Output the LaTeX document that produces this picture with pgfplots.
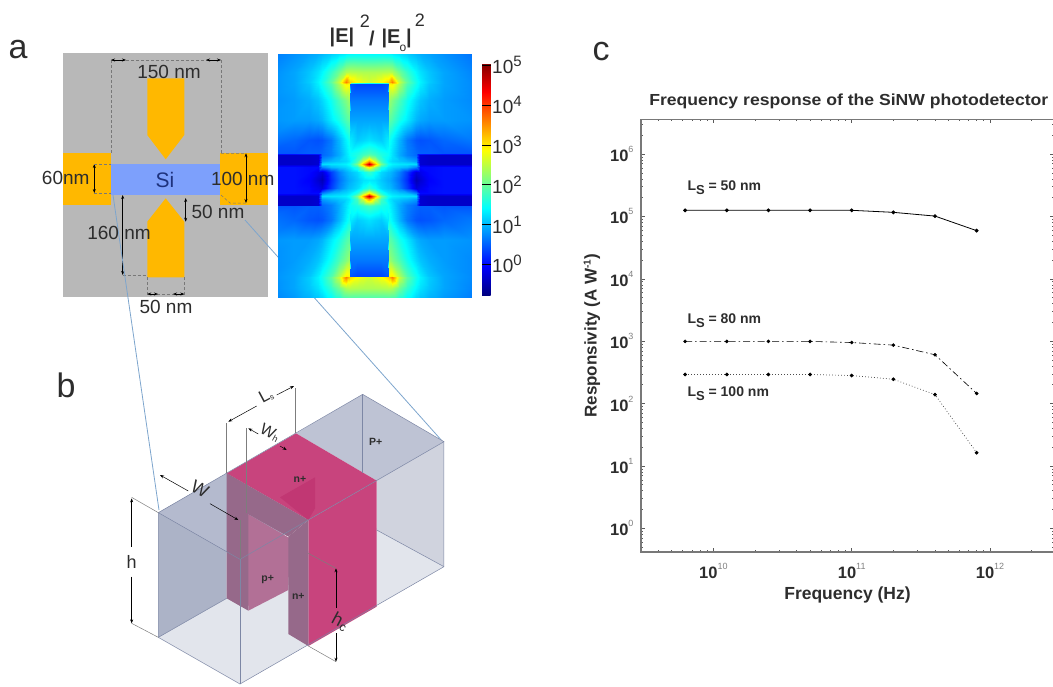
\documentclass[border=0pt]{standalone}
\usepackage{fontspec}
\setmainfont{Liberation Sans}
\usepackage{pgfplots}
\usepackage{pgfplotstable}
\pgfplotsset{compat=1.18}
\usetikzlibrary{arrows.meta}
\definecolor{gold}{RGB}{255,184,0}
\definecolor{greyb}{RGB}{184,184,184}
\definecolor{sibl}{RGB}{125,160,252}
\definecolor{sitxt}{RGB}{30,50,125}
\definecolor{link}{RGB}{125,165,205}
\definecolor{edgeb}{RGB}{125,135,165}
\definecolor{dimc}{RGB}{120,120,120}
\definecolor{dimg}{RGB}{125,125,125}
\definecolor{pinka}{RGB}{200,68,125}
\definecolor{pinkb}{RGB}{193,55,115}
\definecolor{mauvea}{RGB}{178,112,150}
\definecolor{mauveb}{RGB}{150,105,138}
\definecolor{txt}{RGB}{45,45,45}
\definecolor{floorc}{RGB}{226,229,236}
\definecolor{wallc}{RGB}{208,211,222}
\definecolor{toprc}{RGB}{190,195,212}
\definecolor{walll}{RGB}{172,179,199}
\definecolor{toplc}{RGB}{180,186,206}
\definecolor{tickc}{RGB}{90,90,90}
\definecolor{axc}{RGB}{120,120,120}
\newcommand\fs[1]{\fontsize{#1}{#1}\selectfont}
\newcommand\bz[2]{(axis cs:{90+#1/3},{360+#2/3})}
\newcommand\cbl[1]{\fs{19}10\raisebox{7pt}{\fs{15}#1}}
\newcommand\ctl[1]{\textbf{\fs{16.5}\textcolor{txt}{10}}\raisebox{9pt}{\fs{9}\textcolor{gray}{#1}}}
\pgfplotstableread[row sep=\\]{
x y v\\
0 0 1.30\\ 6 0 1.25\\ 12 0 1.10\\ 19 0 0.95\\ 20 0 0.95\\ 23 0 0.85\\ 30 0 0.60\\ 38 0 0.20\\ 47 0 -0.45\\ 51 0 -0.30\\ 60 0 -0.05\\ 75 0 0.05\\ 103 0 0.05\\
0 8 1.70\\ 6 8 1.45\\ 12 8 1.20\\ 19 8 1.05\\ 20 8 1.05\\ 23 8 0.95\\ 30 8 0.70\\ 38 8 0.30\\ 47 8 -0.25\\ 51 8 -0.15\\ 60 8 0.00\\ 75 8 0.05\\ 103 8 0.05\\
0 13 3.00\\ 6 13 2.30\\ 12 13 1.60\\ 19 13 1.30\\ 20 13 1.28\\ 23 13 1.20\\ 30 13 1.10\\ 38 13 1.00\\ 47 13 0.70\\ 51 13 0.00\\ 60 13 0.00\\ 75 13 0.05\\ 103 13 0.05\\
0 16 4.70\\ 6 16 3.30\\ 12 16 2.10\\ 19 16 1.50\\ 20 16 1.45\\ 23 16 1.35\\ 30 16 1.28\\ 38 16 1.25\\ 47 16 1.20\\ 51 16 -0.30\\ 60 16 -0.35\\ 75 16 -0.35\\ 103 16 -0.35\\
0 19 3.40\\ 6 19 2.60\\ 12 19 1.80\\ 19 19 1.35\\ 20 19 1.30\\ 23 19 1.20\\ 30 19 1.10\\ 38 19 1.00\\ 47 19 0.85\\ 51 19 -0.30\\ 60 19 -0.35\\ 75 19 -0.35\\ 103 19 -0.35\\
0 25 2.00\\ 6 25 1.80\\ 12 25 1.60\\ 19 25 1.45\\ 20 25 1.40\\ 23 25 1.25\\ 30 25 0.95\\ 38 25 0.70\\ 47 25 0.55\\ 51 25 -0.30\\ 60 25 -0.35\\ 75 25 -0.35\\ 103 25 -0.35\\
0 26.5 1.80\\ 6 26.5 1.70\\ 12 26.5 1.55\\ 19 26.5 1.45\\ 20 26.5 1.40\\ 23 26.5 1.25\\ 30 26.5 0.95\\ 38 26.5 0.70\\ 47 26.5 0.55\\ 51 26.5 0.50\\ 60 26.5 0.50\\ 75 26.5 0.45\\ 103 26.5 0.45\\
0 40 1.25\\ 6 40 1.18\\ 12 40 1.12\\ 19 40 1.30\\ 20 40 1.50\\ 23 40 1.35\\ 30 40 1.00\\ 38 40 0.65\\ 47 40 0.45\\ 51 40 0.42\\ 60 40 0.45\\ 75 40 0.55\\ 103 40 0.65\\
0 60 0.90\\ 6 60 0.90\\ 12 60 0.90\\ 19 60 0.90\\ 20 60 1.95\\ 23 60 1.85\\ 30 60 1.55\\ 38 60 1.30\\ 47 60 1.00\\ 51 60 0.92\\ 60 60 0.85\\ 75 60 0.85\\ 103 60 0.80\\
0 80 0.65\\ 6 80 0.65\\ 12 80 0.65\\ 19 80 0.65\\ 20 80 2.30\\ 23 80 2.15\\ 30 80 1.85\\ 38 80 1.50\\ 47 80 1.20\\ 51 80 1.08\\ 60 80 0.95\\ 75 80 0.85\\ 103 80 0.75\\
0 96 0.35\\ 6 96 0.35\\ 12 96 0.35\\ 19 96 0.45\\ 20 96 2.90\\ 23 96 2.95\\ 30 96 2.40\\ 38 96 1.85\\ 47 96 1.50\\ 51 96 1.32\\ 60 96 1.08\\ 75 96 0.90\\ 103 96 0.75\\
0 97.5 2.60\\ 6 97.5 2.70\\ 12 97.5 2.85\\ 19 97.5 3.10\\ 20 97.5 3.20\\ 23 97.5 3.60\\ 30 97.5 2.55\\ 38 97.5 1.95\\ 47 97.5 1.52\\ 51 97.5 1.35\\ 60 97.5 1.12\\ 75 97.5 0.90\\ 103 97.5 0.75\\
0 108 2.40\\ 6 108 2.40\\ 12 108 2.42\\ 19 108 2.45\\ 20 108 2.45\\ 23 108 2.40\\ 30 108 2.05\\ 38 108 1.70\\ 47 108 1.38\\ 51 108 1.25\\ 60 108 1.08\\ 75 108 0.90\\ 103 108 0.72\\
0 127 1.35\\ 6 127 1.35\\ 12 127 1.35\\ 19 127 1.33\\ 20 127 1.33\\ 23 127 1.30\\ 30 127 1.22\\ 38 127 1.12\\ 47 127 1.00\\ 51 127 0.95\\ 60 127 0.88\\ 75 127 0.78\\ 103 127 0.62\\
}\fieldtab
\pgfplotstableread{
f r50 r80 r100
6.25e9 1.25e5 990 292
1.25e10 1.25e5 990 292
2.5e10 1.25e5 990 292
5e10 1.25e5 990 292
1e11 1.25e5 950 281
2e11 1.16e5 863 245
4e11 1.01e5 605 139
8e11 5.9e4 145 16.3
}\resp
\begin{document}
\begin{tikzpicture}[>={Stealth[length=4pt,width=3pt]}]
\path[use as bounding box] (0,0) rectangle (1053pt,686pt);
% ---------- schematic panels, in reference pixel coordinates ----------
\begin{axis}[at={(0pt,0pt)},anchor=south west,scale only axis,width=1053pt,height=686pt,
  xmin=0,xmax=1053,ymin=0,ymax=686,y dir=reverse,hide axis,clip=false]
% panel letters
\node[font=\fs{34},text=txt] at (18,50) {a};
\node[font=\fs{34},text=txt] at (66,385) {b};
\node[font=\fs{34},text=txt] at (601,52) {c};
% panel a, left
\fill[greyb] (63.3,53.3) rectangle (268,297.3);
\fill[gold] (63.3,153.3) rectangle (111,205);
\fill[gold] (220,153.3) rectangle (268,205);
\fill[sibl] (111,164) rectangle (220,195);
\fill[gold] (147.3,78.3) -- (184.3,78.3) -- (184.3,135) -- (165.7,159.3) -- (147.3,135) -- cycle;
\fill[gold] (147.3,277.3) -- (184.3,277.3) -- (184.3,221.7) -- (165.7,198.3) -- (147.3,221.7) -- cycle;
\begin{scope}[dimc,line width=.5pt]
\draw[densely dashed] (111,60) -- (111,153) (221,60) -- (221,153) (111,60) -- (221,60);
\draw[<->,black] (111,60) -- (126,60);
\draw[<->,black] (206,60) -- (221,60);
\draw[<->,black] (94.3,164) -- (94.3,193);
\draw[densely dashed] (94.3,164) -- (111,164) (94.3,193) -- (111,193);
\draw[<->,black] (246,153.3) -- (246,203);
\draw[densely dashed] (221,153.3) -- (246,153.3) (221,195) -- (230,203) -- (246,203);
\draw[<->,black] (185.7,198) -- (185.7,221.7);
\draw[<->,black] (122.7,195) -- (122.7,275);
\draw[densely dashed] (122.7,275) -- (147,275);
\draw[densely dashed] (147.3,277.3) -- (147.3,295) (184.3,277.3) -- (184.3,295) (147.3,294) -- (184.3,294);
\draw[<->,black] (147.3,294) -- (158,294);
\draw[<->,black] (173,294) -- (184.3,294);
\end{scope}
% connectors
\draw[link,line width=.8pt] (113,195) -- (159,510);
\draw[link,line width=.8pt] (245,220) -- (443,442);
\node[font=\fs{19},text=txt] at (169,71.7) {150 nm};
\node[font=\fs{19},text=txt] at (65.7,178) {60nm};
\node[font=\fs{19},text=txt] at (242.7,179) {100 nm};
\node[font=\fs{21},text=sitxt] at (165,180) {Si};
\node[font=\fs{19},text=txt] at (218,212) {50 nm};
\node[font=\fs{19},text=txt] at (119,232.7) {160 nm};
\node[font=\fs{19},text=txt] at (166,307) {50 nm};
% heat map title
\node[font=\fs{20}\bfseries,text=txt] at (342,37) {|E|};
\node[font=\fs{18},text=txt] at (365,21) {2};
\node[font=\fs{20}\bfseries,text=txt] at (372,38) {/};
\node[font=\fs{20}\bfseries,text=txt] at (391,38) {|E};
\node[font=\fs{12},text=txt] at (403,48) {o};
\node[font=\fs{20}\bfseries,text=txt] at (409,38) {|};
\node[font=\fs{18},text=txt] at (420,20) {2};
% panel b
\fill[white] \bz{205}{458} -- \bz{818}{103} -- \bz{1062}{245} -- \bz{1062}{620} -- \bz{450}{972} -- \bz{205}{832} -- cycle;
\fill[floorc] \bz{205}{832} -- \bz{450}{972} -- \bz{1062}{620} -- \bz{818}{480} -- cycle;
\fill[wallc] \bz{860}{362} -- \bz{1062}{245} -- \bz{1062}{620} -- \bz{860}{510} -- cycle;
\fill[toprc] \bz{618}{220} -- \bz{818}{103} -- \bz{1062}{245} -- \bz{860}{362} -- cycle;
\fill[walll] \bz{205}{458} -- \bz{410}{340} -- \bz{410}{715} -- \bz{205}{832} -- cycle;
\fill[toplc] \bz{205}{458} -- \bz{410}{340} -- \bz{655}{480} -- \bz{450}{598} -- cycle;
\fill[pinka] \bz{410}{340} -- \bz{618}{220} -- \bz{860}{362} -- \bz{655}{480} -- cycle;
\fill[pinka] \bz{655}{480} -- \bz{860}{362} -- \bz{860}{740} -- \bz{655}{858} -- cycle;
\fill[pinkb] \bz{570}{412} -- \bz{675}{352} -- \bz{675}{445} -- \bz{655}{480} -- cycle;
\fill[mauvea] \bz{470}{460} -- \bz{600}{535} -- \bz{595}{690} -- \bz{475}{752} -- cycle;
\fill[mauveb] \bz{410}{340} -- \bz{475}{378} -- \bz{475}{752} -- \bz{410}{715} -- cycle;
\fill[mauveb] \bz{410}{340} -- \bz{655}{480} -- \bz{595}{530} -- \bz{470}{460} -- cycle;
\fill[mauveb] \bz{595}{530} -- \bz{655}{480} -- \bz{655}{858} -- \bz{595}{822} -- cycle;
\begin{scope}[edgeb,line width=.5pt]
\draw \bz{205}{458} -- \bz{818}{103} -- \bz{1062}{245} -- \bz{450}{598} -- cycle;
\draw \bz{205}{458} -- \bz{205}{832} -- \bz{450}{972} -- \bz{1062}{620} -- \bz{1062}{245};
\draw \bz{450}{598} -- \bz{450}{972};
\draw \bz{818}{103} -- \bz{818}{340};
\draw \bz{205}{832} -- \bz{410}{715};
\draw \bz{860}{510} -- \bz{1062}{620};
\end{scope}
\begin{scope}[dimg,line width=.5pt]
\draw \bz{125}{412} -- \bz{205}{458};
\draw \bz{125}{790} -- \bz{205}{832};
\draw \bz{410}{190} -- \bz{410}{340};
\draw \bz{617}{85} -- \bz{617}{220};
\draw \bz{470}{205} -- \bz{470}{460};
\draw \bz{450}{480} -- \bz{450}{598};
\draw \bz{655}{858} -- \bz{738}{905};
\draw \bz{655}{580} -- \bz{738}{625};
\draw[black,<-] \bz{125}{415} -- \bz{125}{560};
\draw[black,->] \bz{125}{650} -- \bz{125}{790};
\draw[black,<-] \bz{738}{625} -- \bz{738}{745};
\draw[black,->] \bz{738}{820} -- \bz{738}{905};
\draw[black,<-] \bz{415}{185} -- \bz{500}{138};
\draw[black,->] \bz{560}{105} -- \bz{612}{78};
\draw[black,<-] \bz{210}{345} -- \bz{295}{393};
\draw[black,->] \bz{360}{431} -- \bz{445}{480};
\draw[black,<-] \bz{475}{205} -- \bz{505}{222};
\draw[black,->] \bz{570}{258} -- \bz{590}{270};
\end{scope}
\node[font=\fs{18},text=txt] at (axis cs:{90+125/3},{360+605/3}) {h};
\node[font=\fs{18},text=txt,rotate=-28] at (axis cs:{90+330/3},{360+388/3}) {W};
\node[font=\fs{17},text=txt,rotate=28] at (axis cs:{90+528/3},{360+108/3}) {L\raisebox{-1pt}{\fs{8}s}};
\node[font=\fs{16},text=txt,rotate=-28] at (axis cs:{90+540/3},{360+218/3}) {W\raisebox{-1pt}{\fs{9}h}};
\node[font=\fs{18},text=txt,rotate=-28] at (axis cs:{90+750/3},{360+785/3}) {h\raisebox{-2pt}{\fs{12}c}};
\node[font=\fs{10.5}\bfseries,text=txt] at (axis cs:{90+857/3},{360+245/3}) {P+};
\node[font=\fs{10.5}\bfseries,text=txt] at (axis cs:{90+630/3},{360+358/3}) {n+};
\node[font=\fs{10.5}\bfseries,text=txt] at (axis cs:{90+533/3},{360+658/3}) {p+};
\node[font=\fs{10.5}\bfseries,text=txt] at (axis cs:{90+625/3},{360+710/3}) {n+};
% panel c labels
\node[font=\fs{14}\bfseries,text=txt,anchor=west] at (684,188) {L\raisebox{-4pt}{\fs{13}S} = 50 nm};
\node[font=\fs{14}\bfseries,text=txt,anchor=west] at (684,321) {L\raisebox{-4pt}{\fs{13}S} = 80 nm};
\node[font=\fs{14}\bfseries,text=txt,anchor=west] at (684,394) {L\raisebox{-4pt}{\fs{13}S} = 100 nm};
\end{axis}
% ---------- field map ----------
\begin{axis}[at={(277.3pt,388.7pt)},anchor=south west,scale only axis,width=194.4pt,height=244pt,
  xmin=-92,xmax=102.4,ymin=-117.3,ymax=126.7,view={0}{90},hide axis,
  colormap/jet,point meta min=-0.77,point meta max=5.05,
  colorbar,colorbar style={at={(1.053,0.960)},anchor=north west,scale only axis,width=8.7pt,height=232pt,
    ytick={0,1,2,3,4,5},yticklabels={\cbl{0},\cbl{1},\cbl{2},\cbl{3},\cbl{4},\cbl{5}},
    yticklabel pos=right,major tick length=8.7pt,tick style={black,line width=.5pt},
    axis line style={draw=none},yticklabel style={xshift=-2pt,text=txt}}]
\addplot3[surf,shader=interp,mesh/rows=14,mesh/cols=13] table[x=x,y=y,z=v]{\fieldtab};
\addplot3[surf,shader=interp,mesh/rows=14,mesh/cols=13] table[x expr=-\thisrow{x},y=y,z=v]{\fieldtab};
\addplot3[surf,shader=interp,mesh/rows=14,mesh/cols=13] table[x=x,y expr=-\thisrow{y},z=v]{\fieldtab};
\addplot3[surf,shader=interp,mesh/rows=14,mesh/cols=13] table[x expr=-\thisrow{x},y expr=-\thisrow{y},z=v]{\fieldtab};
\end{axis}
% ---------- frequency response ----------
\begin{axis}[at={(641pt,134pt)},anchor=south west,scale only axis,width=413pt,height=432.5pt,
  xmode=log,ymode=log,xmin=3.0e9,xmax=2.9e12,ymin=0.417,ymax=3.57e6,
  log basis x=10,log basis y=10,
  xtick={1e10,1e11,1e12},xticklabels={\ctl{10},\ctl{11},\ctl{12}},
  ytick={1,10,100,1000,1e4,1e5,1e6},yticklabels={\ctl{0},\ctl{1},\ctl{2},\ctl{3},\ctl{4},\ctl{5},\ctl{6}},
  minor xtick={4e9,5e9,6e9,7e9,8e9,9e9,2e10,3e10,4e10,5e10,6e10,7e10,8e10,9e10,2e11,3e11,4e11,5e11,6e11,7e11,8e11,9e11,2e12},
  minor ytick={.5,.6,.7,.8,.9,2,3,4,5,6,7,8,9,20,30,40,50,60,70,80,90,200,300,400,500,600,700,800,900,2e3,3e3,4e3,5e3,6e3,7e3,8e3,9e3,2e4,3e4,4e4,5e4,6e4,7e4,8e4,9e4,2e5,3e5,4e5,5e5,6e5,7e5,8e5,9e5,2e6,3e6},
  tick align=inside,major tick length=4pt,minor tick length=2pt,
  tick style={tickc,line width=.5pt},
  axis line style={axc,line width=1.3pt},
  xticklabel style={yshift=-8pt},
  yticklabel style={xshift=-4pt},
  title={\textbf{\fs{16}\scalebox{1.1}[1]{Frequency response of the SiNW photodetector}}},
  title style={at={(0.503,1)},yshift=1pt,text=txt},
  xlabel={\textbf{\fs{17.5}Frequency (Hz)}},
  xlabel style={text=txt,yshift=-1pt},
  ylabel={\textbf{\fs{17}Responsivity (A W\raisebox{6pt}{\fs{10}-1})}},
  ylabel style={text=txt,yshift=3pt}]
\addplot[black,line width=.8pt,mark=*,mark size=1.5pt] table[x=f,y=r50]{\resp};
\addplot[black,line width=.6pt,dash pattern=on 7pt off 3pt on 1.5pt off 3pt,mark=*,mark size=1.5pt,mark options={solid}] table[x=f,y=r80]{\resp};
\addplot[black!70,line width=.7pt,dash pattern=on .8pt off 2.2pt,mark=*,mark size=1.5pt,mark options={solid,black}] table[x=f,y=r100]{\resp};
\end{axis}
\end{tikzpicture}
\end{document}
